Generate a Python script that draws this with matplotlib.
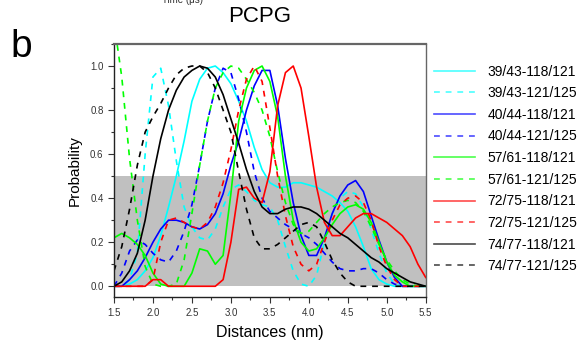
import numpy as np
import matplotlib
matplotlib.use("Agg")
import matplotlib.pyplot as plt
from matplotlib.ticker import MultipleLocator

plt.rcParams["font.family"] = ["Liberation Sans", "DejaVu Sans"]

dist = np.round(np.arange(1.5, 5.51, 0.1), 1)

cyan_118 = [0.0, 0.0, 0.01, 0.03, 0.07, 0.13, 0.23, 0.36, 0.5, 0.66, 0.84, 0.94, 0.99, 1.0, 0.97, 0.92,
            0.84, 0.75, 0.63, 0.53, 0.47, 0.45, 0.45, 0.47, 0.47, 0.46, 0.45, 0.43, 0.41, 0.38, 0.34,
            0.27, 0.18, 0.08, 0.03, 0.01, 0.0, 0.0, 0.0, 0.0, 0.0]
cyan_121 = [0.0, 0.0, 0.03, 0.15, 0.6, 0.95, 0.99, 0.82, 0.57, 0.36, 0.27, 0.22, 0.21, 0.26, 0.36, 0.44,
            0.46, 0.43, 0.39, 0.37, 0.36, 0.3, 0.18, 0.07, 0.01, 0.0, 0.05, 0.2, 0.33, 0.4, 0.43,
            0.42, 0.36, 0.26, 0.15, 0.06, 0.01, 0.0, 0.0, 0.0, 0.0]
blue_118 = [0.0, 0.0, 0.03, 0.07, 0.13, 0.2, 0.26, 0.3, 0.3, 0.29, 0.27, 0.26, 0.28, 0.33, 0.42, 0.55,
            0.66, 0.8, 0.91, 0.98, 0.98, 0.82, 0.58, 0.38, 0.23, 0.14, 0.14, 0.22, 0.33, 0.41, 0.46,
            0.48, 0.43, 0.32, 0.21, 0.11, 0.04, 0.0, 0.0, 0.0, 0.0]
blue_121 = [0.0, 0.06, 0.16, 0.21, 0.19, 0.15, 0.12, 0.11, 0.16, 0.25, 0.37, 0.55, 0.75, 0.9, 0.99, 0.97,
            0.85, 0.7, 0.52, 0.4, 0.34, 0.31, 0.28, 0.26, 0.24, 0.22, 0.19, 0.15, 0.11, 0.08, 0.07,
            0.07, 0.08, 0.08, 0.06, 0.03, 0.01, 0.0, 0.0, 0.0, 0.0]
green_118 = [0.22, 0.24, 0.22, 0.19, 0.14, 0.06, 0.01, 0.0, 0.0, 0.0, 0.06, 0.17, 0.16, 0.1, 0.14, 0.42,
             0.75, 0.9, 0.98, 1.0, 0.93, 0.77, 0.5, 0.3, 0.2, 0.16, 0.17, 0.22, 0.28, 0.33, 0.36,
             0.37, 0.35, 0.29, 0.2, 0.11, 0.05, 0.02, 0.0, 0.0, 0.0]
green_121 = [1.2, 0.95, 0.58, 0.3, 0.09, 0.01, 0.0, 0.0, 0.01, 0.12, 0.33, 0.55, 0.75, 0.9, 0.97, 1.0,
             0.99, 0.94, 0.88, 0.8, 0.68, 0.52, 0.38, 0.28, 0.24, 0.25, 0.29, 0.33, 0.36, 0.38, 0.39,
             0.38, 0.34, 0.27, 0.19, 0.12, 0.07, 0.03, 0.01, 0.0, 0.0]
red_118 = [0.0, 0.0, 0.0, 0.0, 0.0, 0.03, 0.03, 0.0, 0.0, 0.0, 0.0, 0.0, 0.0, 0.0, 0.03, 0.2,
           0.44, 0.45, 0.4, 0.38, 0.52, 0.82, 0.97, 1.0, 0.9, 0.68, 0.45, 0.29, 0.23, 0.23, 0.27,
           0.31, 0.33, 0.33, 0.31, 0.29, 0.26, 0.23, 0.18, 0.1, 0.04]
red_121 = [0.0, 0.0, 0.0, 0.0, 0.0, 0.03, 0.2, 0.3, 0.31, 0.29, 0.27, 0.26, 0.29, 0.36, 0.47, 0.62,
           0.8, 0.94, 1.0, 0.93, 0.72, 0.5, 0.32, 0.18, 0.1, 0.07, 0.1, 0.2, 0.3, 0.37, 0.4,
           0.41, 0.38, 0.3, 0.18, 0.09, 0.03, 0.0, 0.0, 0.0, 0.0]
black_118 = [0.0, 0.02, 0.07, 0.15, 0.3, 0.5, 0.67, 0.8, 0.89, 0.95, 0.98, 1.0, 0.99, 0.95, 0.87, 0.76,
             0.65, 0.53, 0.43, 0.36, 0.33, 0.33, 0.35, 0.36, 0.36, 0.35, 0.33, 0.3, 0.27, 0.24, 0.22,
             0.19, 0.16, 0.13, 0.11, 0.08, 0.06, 0.04, 0.02, 0.01, 0.0]
black_121 = [0.07, 0.18, 0.35, 0.55, 0.7, 0.77, 0.83, 0.9, 0.96, 0.99, 1.0, 1.0, 0.97, 0.9, 0.8, 0.7,
             0.52, 0.35, 0.22, 0.17, 0.17, 0.19, 0.22, 0.25, 0.28, 0.29, 0.27, 0.2, 0.12, 0.06, 0.02,
             0.0, 0.0, 0.0, 0.0, 0.0, 0.0, 0.0, 0.0, 0.0, 0.0]

labels = ["39/43-118/121", "39/43-121/125", "40/44-118/121", "40/44-121/125",
          "57/61-118/121", "57/61-121/125", "72/75-118/121", "72/75-121/125",
          "74/77-118/121", "74/77-121/125"]
series = [cyan_118, cyan_121, blue_118, blue_121, green_118, green_121,
          red_118, red_121, black_118, black_121]
colors = ["#00ffff", "#00ffff", "#0000ff", "#0000ff", "#00ff00", "#00ff00",
          "#ff0000", "#ff0000", "#000000", "#000000"]

fig = plt.figure(figsize=(5.86, 3.45), dpi=100)
ax = fig.add_axes([0.1945, 0.1383, 0.532, 0.7342])

ax.axhspan(0, 0.5, color="#c0c0c0", lw=0, zorder=0)

handles = []
for i, (y, c, lab) in enumerate(zip(series, colors, labels)):
    ls = "-" if i % 2 == 0 else (0, (3.5, 3.5))
    h, = ax.plot(dist, y, color=c, lw=1.2, ls=ls, label=lab)
    handles.append(h)

ax.set_xlim(1.5, 5.5)
ax.set_ylim(-0.05, 1.1)
ax.xaxis.set_major_locator(MultipleLocator(0.5))
ax.xaxis.set_minor_locator(MultipleLocator(0.25))
ax.yaxis.set_major_locator(MultipleLocator(0.2))
ax.yaxis.set_minor_locator(MultipleLocator(0.1))
ax.set_yticks([0.0, 0.2, 0.4, 0.6, 0.8, 1.0])
ax.tick_params(which="both", direction="out", colors="#333333", labelcolor="#333333",
               labelsize=7, top=False, right=False)
ax.tick_params(which="major", length=4, width=0.8)
ax.tick_params(which="minor", length=2.5, width=0.8)

for s in ["left", "bottom"]:
    ax.spines[s].set_color("#222222")
    ax.spines[s].set_linewidth(1.0)
ax.spines["top"].set_color("#666666")
ax.spines["top"].set_linewidth(1.6)
ax.spines["right"].set_color("#666666")
ax.spines["right"].set_linewidth(1.0)

ax.set_xlabel("Distances (nm)", fontsize=11.5, labelpad=5)
ax.set_ylabel("Probability", fontsize=11, labelpad=6)

fig.text(260 / 586, 1 - 17 / 345, "PCPG", fontsize=16, ha="center", va="center")
fig.text(10 / 586, 1 - 57 / 345, "b", fontsize=28, ha="left", va="baseline")
fig.text(182 / 586, 1 - 3 / 345, "Time (μs)", fontsize=7, ha="center", va="baseline",
         color="#333333")

leg = fig.legend(handles=handles, loc="upper left", bbox_to_anchor=(428 / 586, 1 - 59 / 345),
                 frameon=False, fontsize=10, handlelength=3.0, labelspacing=0.55,
                 handletextpad=0.9, borderaxespad=0)
for lh in leg.get_lines():
    lh.set_alpha(0.7)

fig.savefig("out.png", dpi=100)
